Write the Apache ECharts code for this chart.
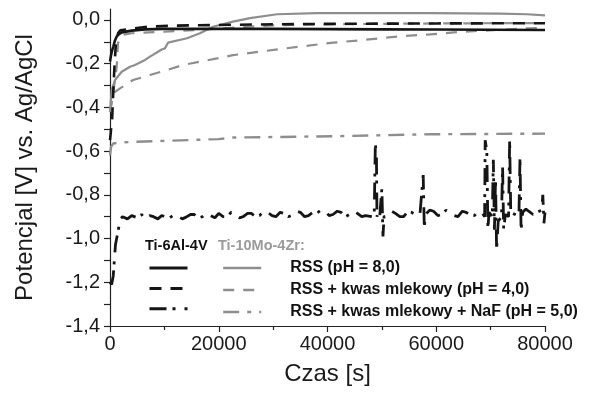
<!DOCTYPE html>
<html>
<head>
<meta charset="utf-8">
<script src="https://cdn.jsdelivr.net/npm/echarts@6/dist/echarts.min.js"></script>
<style>
html,body{margin:0;padding:0;background:#fff;}
#chart{width:589px;height:398px;}
</style>
</head>
<body>
<div id="chart"></div>
<script>
// ---- tick labels ----
const xTicks = [0, 20000, 40000, 60000, 80000];
const yTicks = [-1.4, -1.2, -1.0, -0.8, -0.6, -0.4, -0.2, 0.0];
const yMinorTicks = [-1.3, -1.1, -0.9, -0.7, -0.5, -0.3, -0.1];

// ---- legend text ----
const alloyA = 'Ti-6Al-4V';
const alloyB = 'Ti-10Mo-4Zr:';
const solutions = ['RSS (pH = 8,0)', 'RSS + kwas mlekowy (pH = 4,0)', 'RSS + kwas mlekowy + NaF (pH = 5,0)'];

// ---- Ti-6Al-4V, RSS (solid black) ----
const a1T = [0, 200, 400, 610, 900, 1230, 1600, 2150, 4000, 6400, 10000, 20000, 30000, 40000, 50000, 60000, 70000, 80000];
const a1V = [-0.19, -0.16, -0.138, -0.122, -0.095, -0.076, -0.066, -0.057, -0.049, -0.043, -0.041, -0.040, -0.041, -0.042, -0.043, -0.044, -0.045, -0.046];

// ---- Ti-6Al-4V, RSS + kwas mlekowy (dashed black) ----
const a2T = [0, 400, 650, 850, 1100, 1500, 1900, 4000, 7000, 12000, 20000, 30000, 40000, 60000, 80000];
const a2V = [-0.55, -0.45, -0.30, -0.20, -0.10, -0.06, -0.047, -0.040, -0.031, -0.026, -0.023, -0.020, -0.018, -0.016, -0.015];

// ---- Ti-6Al-4V, RSS + kwas mlekowy + NaF (dash-dot black) ----
const a3T = [0, 300, 600, 800, 1000, 1300, 1600, 1900, 2300, 3200, 4000, 5000, 5800, 6500, 7300, 8000, 8800, 9500, 10300, 11000, 11800, 12500, 13300, 14000, 14800, 15500, 16300, 17000, 17800, 18500, 19300,
  20000, 20800, 21500, 22300, 23000, 23800, 24500, 25300, 26000, 26800, 27500, 28300, 29000, 29800, 30500, 31300, 32000, 32800, 33500, 34300, 35000, 35800, 36500, 37300, 38000, 38800, 39500, 40300, 41000, 41800, 42500, 43300, 44000, 44800, 45500, 46300, 47000,
  48200, 48600, 48800, 49000, 49100, 49300, 49600, 50000, 50200, 50400, 51000, 51800, 52500, 53300, 54000, 54800, 55500, 56300, 57000, 57600, 57800, 58000, 58800, 59500,
  60300, 61000, 61800, 62500, 63300, 64000, 64800, 65500, 66300, 67000, 67800, 68500, 68900, 69000, 69300, 69500, 69700, 70300, 70500, 70700, 70900, 71100, 71400, 72000, 72200,
  72400, 72700, 73300, 73500, 73700, 74500, 75200, 75400, 75600, 75900, 76500, 77000, 77800, 78500, 79400, 79600, 79800, 80000];
const a3V = [-1.20, -1.21, -1.17, -1.10, -1.03, -0.99, -0.95, -0.91, -0.90, -0.91, -0.895, -0.905, -0.89, -0.91, -0.895, -0.90, -0.91, -0.895, -0.90, -0.905, -0.89, -0.898, -0.91, -0.902, -0.89, -0.89, -0.905, -0.90, -0.885, -0.895, -0.905,
  -0.885, -0.90, -0.90, -0.88, -0.89, -0.905, -0.90, -0.885, -0.885, -0.90, -0.895, -0.875, -0.88, -0.895, -0.90, -0.88, -0.885, -0.90, -0.893, -0.875, -0.88, -0.90, -0.895, -0.88, -0.885, -0.87, -0.875, -0.895, -0.89, -0.875, -0.88, -0.90, -0.89, -0.875, -0.885, -0.90, -0.895,
  -0.90, -0.88, -0.565, -0.62, -0.90, -0.88, -0.90, -0.77, -0.99, -0.90, -0.895, -0.875, -0.885, -0.90, -0.90, -0.875, -0.88, -0.895, -0.89, -0.71, -0.95, -0.89, -0.87, -0.875,
  -0.895, -0.89, -0.87, -0.88, -0.895, -0.90, -0.875, -0.88, -0.895, -0.895, -0.875, -0.885, -0.90, -0.55, -0.60, -0.96, -0.88, -0.90, -0.64, -0.96, -0.73, -1.05, -0.92, -0.90, -0.67,
  -0.96, -0.89, -0.90, -0.55, -0.88, -0.89, -0.90, -0.63, -0.96, -0.88, -0.865, -0.875, -0.89, -0.88, -0.87, -0.80, -0.93, -0.88];

// ---- Ti-10Mo-4Zr, RSS (solid grey) ----
const b1T = [0, 310, 920, 2150, 3680, 3900, 4600, 6440, 7360, 9510, 10100, 10670, 14160, 16550, 18940, 22620, 25750, 30710, 38070, 44140, 58850, 71720, 76690, 80000];
const b1V = [-0.42, -0.32, -0.275, -0.237, -0.214, -0.222, -0.206, -0.183, -0.168, -0.135, -0.13, -0.104, -0.084, -0.061, -0.031, -0.008, 0.008, 0.026, 0.031, 0.031, 0.031, 0.029, 0.026, 0.021];

// ---- Ti-10Mo-4Zr, RSS + kwas mlekowy (dashed grey) ----
const b2T = [0, 300, 550, 1840, 4230, 7360, 10480, 13430, 16550, 19680, 22620, 28870, 34940, 41010, 46530, 52780, 58850, 64920, 71170, 77240, 80000];
const b2V = [-0.42, -0.38, -0.336, -0.313, -0.275, -0.252, -0.229, -0.206, -0.191, -0.176, -0.161, -0.141, -0.122, -0.104, -0.092, -0.076, -0.066, -0.054, -0.046, -0.038, -0.036];

// ---- Ti-10Mo-4Zr, second dashed grey curve (not in legend) ----
const b2bT = [0, 600, 1000, 1230, 1470, 2150, 4000, 10000, 16000, 20000, 25000, 30000, 40000, 60000, 80000];
const b2bV = [-0.42, -0.33, -0.26, -0.214, -0.106, -0.069, -0.061, -0.054, -0.046, -0.040, -0.032, -0.025, -0.020, -0.016, -0.014];

// ---- Ti-10Mo-4Zr, RSS + kwas mlekowy + NaF (dash-dot grey) ----
const b3T = [0, 200, 600, 2000, 4200, 20000, 22600, 41000, 58850, 80000];
const b3V = [-0.62, -0.58, -0.565, -0.56, -0.558, -0.545, -0.538, -0.532, -0.523, -0.52];

const BLACK = '#151515';
const GREY = '#8e8e8e';
const FONT = "'Liberation Sans', Arial, sans-serif";

function pairs(t, v) { return t.map((x, i) => [x, v[i]]); }

const dashA = [12, 9];
const dashDotA = [17, 6, 3, 9];
const dashB = [11, 9];
const dashDotB = [16, 8, 4, 8];

const names = {
  a1: alloyA + ' ' + solutions[0], a2: alloyA + ' ' + solutions[1], a3: alloyA + ' ' + solutions[2],
  b1: 'B ' + solutions[0], b2: 'B ' + solutions[1], b3: 'B ' + solutions[2]
};
const labelOf = {};
labelOf[names.b1] = solutions[0]; labelOf[names.b2] = solutions[1]; labelOf[names.b3] = solutions[2];

function line(name, data, color, width, type, z) {
  return {
    name, type: 'line', data, symbol: 'none', showSymbol: false, smooth: false, animation: false, z: z,
    lineStyle: { color, width, type }, itemStyle: { color }
  };
}

const legendCommon = {
  orient: 'vertical', top: 260, padding: 0,
  itemWidth: 38, itemHeight: 16, itemGap: 6, selectedMode: false,
  itemStyle: { opacity: 0, borderWidth: 0 }
};

const chart = echarts.init(document.getElementById('chart'), null, { renderer: 'canvas' });
chart.setOption({
  animation: false,
  backgroundColor: '#fff',
  grid: { left: 110, right: 44, top: 9, bottom: 72, containLabel: false, outerBoundsMode: 'none' },
  xAxis: {
    type: 'value', min: 0, max: 80000, interval: 20000,
    name: 'Czas [s]', nameLocation: 'middle', nameGap: 36,
    nameTextStyle: { fontFamily: FONT, fontSize: 24, color: '#1a1a1a' },
    axisLine: { show: true, onZero: false, lineStyle: { color: '#222', width: 1.2 } },
    axisTick: { show: true, inside: false, length: 6, lineStyle: { color: '#222', width: 1.2 } },
    minorTick: { show: true, splitNumber: 2, length: 4, lineStyle: { color: '#222', width: 1.2 } },
    splitLine: { show: false }, minorSplitLine: { show: false },
    axisLabel: { fontFamily: FONT, fontSize: 20, color: '#1a1a1a', margin: 8, customValues: xTicks,
      formatter: v => String(v) }
  },
  yAxis: {
    type: 'value', min: -1.4, max: 0.05,
    name: 'Potencjal [V] vs. Ag/AgCl', nameLocation: 'middle', nameGap: 73, nameRotate: 90,
    nameTextStyle: { fontFamily: FONT, fontSize: 24, color: '#1a1a1a' },
    axisLine: { show: true, onZero: false, lineStyle: { color: '#222', width: 1.2 } },
    axisTick: { show: true, inside: false, length: 6, customValues: yTicks.concat(yMinorTicks), lineStyle: { color: '#222', width: 1.2 } },
    splitLine: { show: false },
    axisLabel: { fontFamily: FONT, fontSize: 20, color: '#1a1a1a', margin: 10, customValues: yTicks,
      formatter: v => v.toFixed(1).replace('-0.0', '0.0').replace('.', ',') }
  },
  legend: [
    Object.assign({}, legendCommon, {
      data: [names.a1, names.a2, names.a3], left: 148,
      lineStyle: { width: 3 },
      formatter: () => '', textStyle: { fontSize: 1 }
    }),
    Object.assign({}, legendCommon, {
      data: [names.b1, names.b2, names.b3], left: 222,
      lineStyle: { width: 2.4 },
      formatter: n => '{p|}' + labelOf[n],
      textStyle: { fontFamily: FONT, fontSize: 16, fontWeight: 'bold', color: '#111', lineHeight: 16,
        rich: { p: { width: 24 } } }
    })
  ],
  graphic: [
    { type: 'text', left: 145, top: 238, style: { text: alloyA, font: "bold 14.5px 'Liberation Sans', Arial", fill: '#111' } },
    { type: 'text', left: 218, top: 238, style: { text: alloyB, font: "bold 14.5px 'Liberation Sans', Arial", fill: '#9a9a9a' } }
  ],
  series: [
    line(names.b3, pairs(b3T, b3V), GREY, 2.4, dashDotB, 2),
    line(names.b2, pairs(b2T, b2V), GREY, 2.2, dashB, 2),
    line('B extra', pairs(b2bT, b2bV), GREY, 2.2, dashB, 2),
    line(names.b1, pairs(b1T, b1V), GREY, 2.2, 'solid', 2),
    line(names.a3, pairs(a3T, a3V), BLACK, 2.8, dashDotA, 3),
    line(names.a2, pairs(a2T, a2V), BLACK, 2.6, dashA, 3),
    line(names.a1, pairs(a1T, a1V), BLACK, 2.6, 'solid', 3)
  ]
});
</script>
</body>
</html>
